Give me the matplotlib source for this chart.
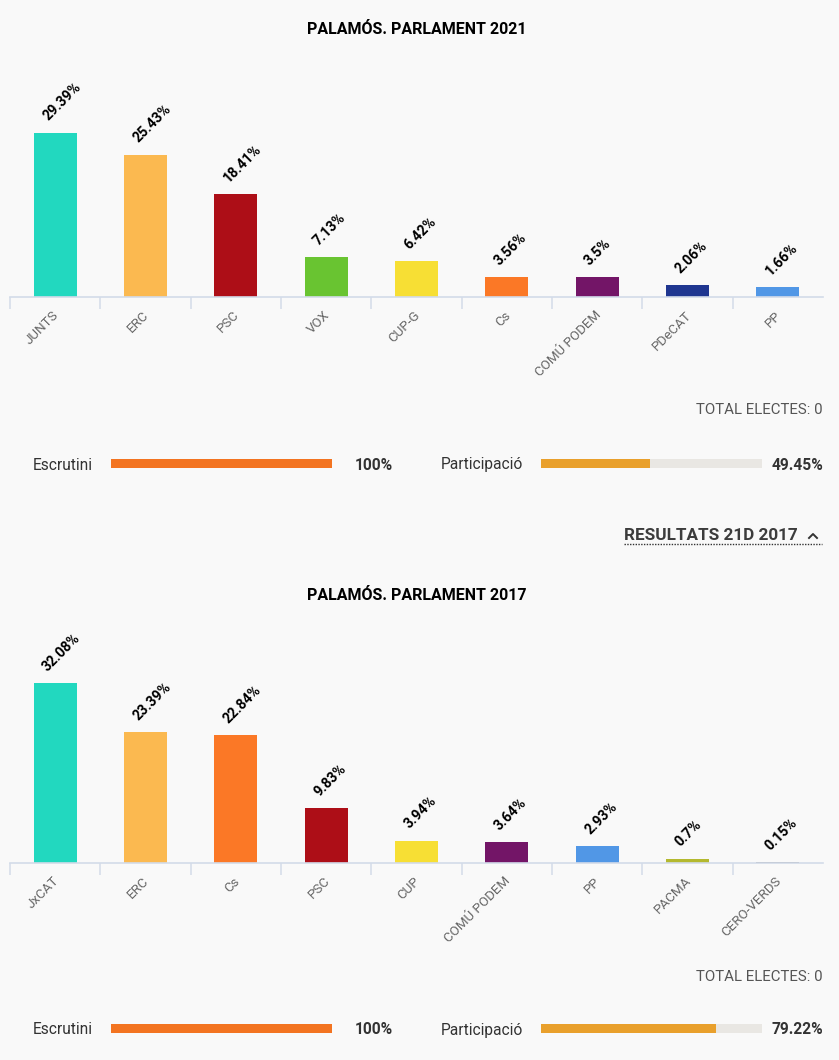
#!/usr/bin/env python3
"""Palamos election results, 2021 and 2017."""

import matplotlib

matplotlib.use("Agg")
import matplotlib.pyplot as plt

parties_2021 = ["JUNTS", "ERC", "PSC", "VOX", "CUP-G", "Cs", "COMÚ PODEM", "PDeCAT", "PP"]
values_2021 = [29.39, 25.43, 18.41, 7.13, 6.42, 3.56, 3.5, 2.06, 1.66]
colors_2021 = ["#22d8bf", "#fbb950", "#ad0e17", "#69c431", "#f7df34", "#fb7826", "#731567", "#1f3690", "#5197e6"]

parties_2017 = ["JxCAT", "ERC", "Cs", "PSC", "CUP", "COMÚ PODEM", "PP", "PACMA", "CERO-VERDS"]
values_2017 = [32.08, 23.39, 22.84, 9.83, 3.94, 3.64, 2.93, 0.7, 0.15]
colors_2017 = ["#22d8bf", "#fbb950", "#fb7826", "#ad0e17", "#f7df34", "#731567", "#5197e6", "#b4b92f", "#8a8a8a"]

scrutiny_2021, turnout_2021 = 100, 49.45
scrutiny_2017, turnout_2017 = 100, 79.22

W, H = 839, 1060
BG = "#f9f9f9"
PX = 0.72  # one pixel in points at dpi 100

plt.rcParams["font.family"] = ["Roboto", "DejaVu Sans"]


def px_axes(fig, x0, y0, x1, y1):
    # pixel box, measured from the top left corner
    ax = fig.add_axes([x0 / W, 1 - y1 / H, (x1 - x0) / W, (y1 - y0) / H])
    ax.patch.set_alpha(0)
    return ax


def draw_chart(fig, top, base, names, values, colors):
    ax = px_axes(fig, 10, top, 823, base)
    ax.bar(range(len(values)), values, width=0.475, color=colors)
    ax.set_xlim(-0.5, len(values) - 0.5)
    ax.set_ylim(0, (base - top) / 5.58)
    ax.set_yticks([])
    for side in ["top", "left", "right"]:
        ax.spines[side].set_visible(False)
    ax.spines["bottom"].set_color("#d3dbe9")
    ax.spines["bottom"].set_linewidth(1.2)
    ax.set_xticks([i - 0.5 for i in range(len(values))])
    ax.set_xticklabels([])
    ax.tick_params(axis="x", length=12 * PX, width=1.5 * PX, color="#d3dbe9")
    for i, (name, value) in enumerate(zip(names, values)):
        ax.annotate(f"{value:g}%", (i, value), xytext=(-5 * PX, 9 * PX), textcoords="offset points",
                    rotation=45, rotation_mode="anchor", ha="left", va="bottom",
                    fontsize=10.2, fontweight="bold", color="#000000")
        ax.annotate(name, (i, 0), xytext=(-3 * PX, -12 * PX), textcoords="offset points",
                    rotation=45, rotation_mode="anchor", ha="right", va="top",
                    fontsize=9.6, color="#666666")


def draw_progress(fig, x0, y0, value, color):
    ax = px_axes(fig, x0, y0, x0 + 221, y0 + 9)
    ax.barh([0], [100], height=1, color="#e9e7e3")
    ax.barh([0], [value], height=1, color=color)
    ax.set_xlim(0, 100)
    ax.set_ylim(-0.5, 0.5)
    ax.axis("off")


def draw_footer(page, y_total, y_bars, scrutiny, turnout):
    page.text(823, y_total, "TOTAL ELECTES: 0", ha="right", va="center", fontsize=10.8, color="#555555")
    page.text(33, y_bars, "Escrutini", ha="left", va="center", fontsize=11.2, color="#333333")
    page.text(393, y_bars, f"{scrutiny:g}%", ha="right", va="center", fontsize=11.2, fontweight="bold", color="#333333")
    page.text(441, y_bars, "Participació", ha="left", va="center", fontsize=11.2, color="#333333")
    page.text(823, y_bars, f"{turnout:g}%", ha="right", va="center", fontsize=11.2, fontweight="bold", color="#333333")


def main():
    fig = plt.figure(figsize=(W / 100, H / 100), dpi=100, facecolor=BG)

    page = px_axes(fig, 0, 0, W, H)
    page.set_xlim(0, W)
    page.set_ylim(H, 0)
    page.axis("off")

    page.text(417, 30, "PALAMÓS. PARLAMENT 2021", ha="center", va="center", fontsize=11.55, fontweight="bold", color="#000000")
    page.text(417, 595, "PALAMÓS. PARLAMENT 2017", ha="center", va="center", fontsize=11.55, fontweight="bold", color="#000000")

    draw_chart(fig, 60, 296.5, parties_2021, values_2021, colors_2021)
    draw_chart(fig, 625, 862.5, parties_2017, values_2017, colors_2017)

    draw_footer(page, 410, 465, scrutiny_2021, turnout_2021)
    draw_footer(page, 977, 1030, scrutiny_2017, turnout_2017)
    draw_progress(fig, 110.5, 459, scrutiny_2021, "#f37421")
    draw_progress(fig, 540.5, 459, turnout_2021, "#e9a02c")
    draw_progress(fig, 110.5, 1024, scrutiny_2017, "#f37421")
    draw_progress(fig, 540.5, 1024, turnout_2017, "#e9a02c")

    page.text(624, 536, "RESULTATS 21D 2017", ha="left", va="center", fontsize=12.3, fontweight="bold", color="#3c3c3c")
    page.plot([624, 822], [544, 544], color="#333333", linewidth=1, linestyle=(0, (1, 1)))
    page.plot([809, 813, 817], [538, 534, 538], color="#333333", linewidth=1.4)

    fig.savefig("out.png", dpi=100, facecolor=BG)
    plt.close(fig)


if __name__ == "__main__":
    main()
